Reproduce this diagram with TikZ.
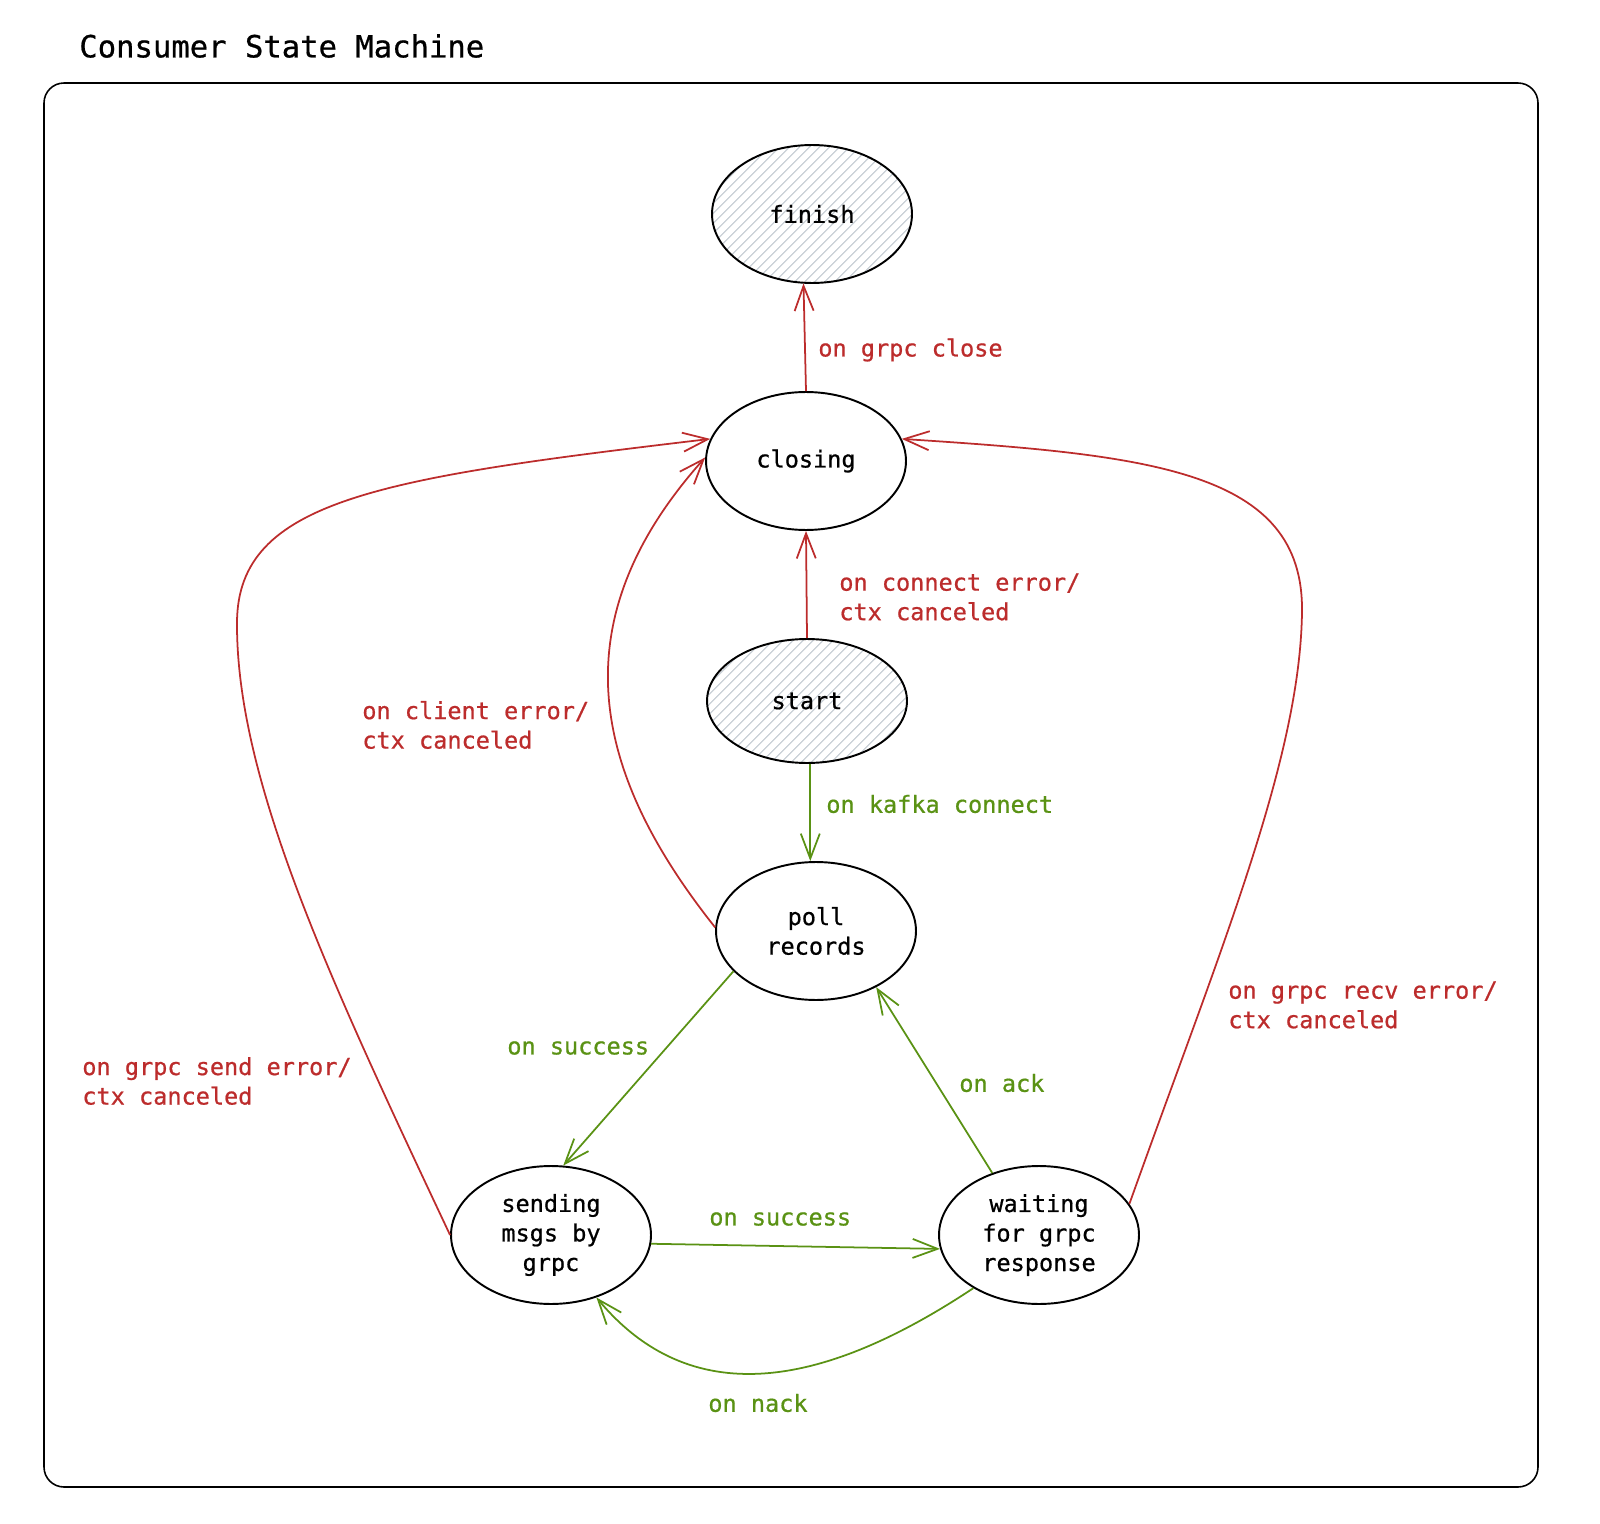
\documentclass[tikz,border=0pt]{standalone}
\usepackage{fontspec}
\setmainfont{DejaVu Sans Mono}[FakeBold=0.7]
\usetikzlibrary{shapes.geometric,arrows.meta,patterns.meta}
\definecolor{errred}{HTML}{BC2C2C}
\definecolor{okgreen}{HTML}{5A9214}
\definecolor{hatchgray}{HTML}{CED4DA}

\begin{document}
\begin{tikzpicture}[x=0.02cm,y=-0.02cm]
    \tikzstyle{state}=[ellipse,draw=black,line width=1.1pt,minimum width=4cm,minimum height=2.76cm,inner sep=0pt,align=center,font=\fontsize{13.4}{16.8}\selectfont]
    \tikzstyle{endstate}=[state,pattern={Lines[angle=45,distance=4pt,line width=0.8pt]},pattern color=hatchgray]
    \tikzstyle{lbl}=[anchor=west,inner sep=0pt,align=left,font=\fontsize{13.4}{16.8}\selectfont]
    \tikzstyle{tr}=[line width=1pt,-{Straight Barb[length=0.5cm,width=0.38cm,line width=1pt]}]
    \tikzstyle{err}=[tr,errred]
    \tikzstyle{ok}=[tr,okgreen]
    \useasboundingbox (0,0) rectangle (1600,1524);
    \draw[line width=0.9pt,rounded corners=0.4cm] (44,83) rectangle (1538,1487);
    \node[anchor=west,inner sep=0pt,font=\fontsize{17.4}{20}\selectfont] (title) at (79,46) {Consumer State Machine};
    % states
    \node[endstate] (finish) at (812,214) {finish};
    \node[state] (closing) at (806,461) {closing};
    \node[endstate,minimum height=2.48cm] (start) at (807,701) {start};
    \node[state] (poll) at (816,931) {poll\\records};
    \node[state] (sending) at (551,1235) {sending\\msgs by\\grpc};
    \node[state] (waiting) at (1039,1235) {waiting\\for grpc\\response};
    % transitions
    \draw[err] (closing.north) -- (finish.-97);
    \draw[err] (start.north) -- (closing.south);
    \draw[ok] (start.-87) -- (start.-87 |- poll.north);
    \draw[err] (poll.178) .. controls (590,770) and (560,620) .. (closing.178);
    \draw[err] (sending.west) .. controls (330,980) and (236,780) .. (237,622) .. controls (238,500) and (380,478) .. (closing.167);
    \draw[err] (waiting.19) .. controls (1220,950) and (1300,760) .. (1302,612) .. controls (1304,470) and (1150,455) .. (closing.13);
    \draw[ok] (poll.-154) -- (sending.80);
    \draw[ok] (waiting.127) -- (poll.-43);
    \draw[ok] (sending.-5) -- (waiting.188);
    \draw[ok] (waiting.-141) .. controls (820,1390) and (690,1410) .. (sending.-54);
    % labels
    \node[lbl,errred] (l1) at (818,350) {on grpc close};
    \node[lbl,errred] (l2) at (839,597) {on connect error/\\ctx canceled};
    \node[lbl,okgreen] (l3) at (826,804) {on kafka connect};
    \node[lbl,errred] (l4) at (362,725) {on client error/\\ctx canceled};
    \node[lbl,errred] (l5) at (82,1081) {on grpc send error/\\ctx canceled};
    \node[lbl,errred] (l6) at (1228,1005) {on grpc recv error/\\ctx canceled};
    \node[lbl,okgreen] (l7) at (507,1048) {on success};
    \node[lbl,okgreen] (l8) at (959,1083) {on ack};
    \node[lbl,okgreen] (l9) at (709,1219) {on success};
    \node[lbl,okgreen] (l10) at (708,1403) {on nack};
\end{tikzpicture}
\end{document}
